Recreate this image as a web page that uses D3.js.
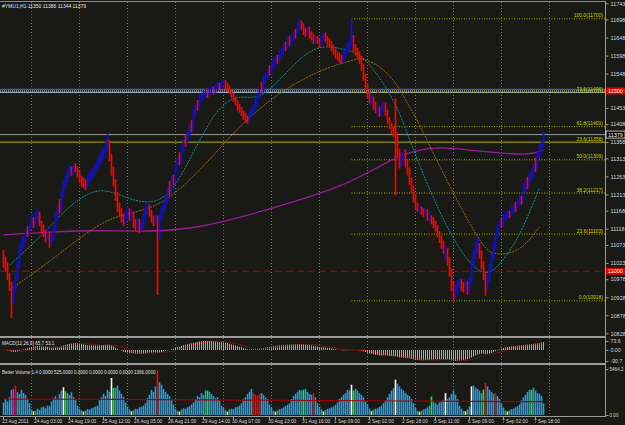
<!DOCTYPE html>
<html>
<head>
<meta charset="utf-8">
<script src="https://cdn.jsdelivr.net/npm/d3@7"></script>
<style>
    body { margin: 0; background: #191915; }
    svg { display: block; }
    text { font-family: "Liberation Sans", Arial, sans-serif; }
</style>
</head>
<body>
<div id="chart"></div>
<script>
//Price data, one value per H1 bar (open = previous close)
var firstOpen = 11045;
var closes = [
    11030,11015,10990,10960,10925,10955,10985,11020,11060,11075,
    11090,11105,11100,11125,11140,11130,11150,11160,11135,11120,
    11110,11095,11105,11080,11090,11120,11150,11170,11165,11215,
    11240,11255,11270,11280,11275,11290,11285,11270,11260,11250,
    11245,11240,11255,11265,11270,11280,11290,11300,11310,11320,
    11335,11345,11360,11320,11280,11250,11210,11180,11165,11150,
    11140,11155,11170,11150,11160,11135,11125,11140,11120,11130,
    11150,11170,11180,11160,11145,11140,11150,11110,11150,11170,
    11180,11200,11220,11215,11255,11250,11290,11305,11300,11340,
    11355,11350,11380,11400,11395,11440,11455,11450,11480,11485,
    11490,11495,11490,11500,11505,11500,11510,11515,11510,11520,
    11525,11515,11510,11500,11490,11480,11470,11455,11450,11440,
    11430,11425,11420,11435,11445,11455,11470,11485,11500,11495,
    11530,11540,11550,11545,11570,11580,11585,11580,11600,11610,
    11620,11615,11640,11635,11645,11655,11650,11675,11690,11680,
    11665,11660,11670,11655,11650,11640,11645,11640,11630,11645,
    11655,11645,11635,11630,11620,11610,11600,11595,11590,11585,
    11600,11610,11625,11630,11645,11620,11610,11600,11590,11565,
    11540,11515,11490,11480,11485,11460,11450,11455,11440,11450,
    11460,11440,11420,11405,11390,11385,11375,11330,11300,11310,
    11330,11300,11280,11250,11230,11200,11180,11175,11180,11165,
    11160,11165,11150,11155,11140,11130,11120,11105,11090,11075,
    11060,11065,11030,11000,10960,10940,10950,10965,10970,10960,
    10955,10965,10950,10975,11020,11045,11060,11070,11050,11020,
    10990,10960,10980,11010,11040,11070,11100,11120,11130,11125,
    11150,11155,11160,11155,11170,11175,11172,11190,11200,11195,
    11230,11240,11235,11260,11270,11285,11280,11320,11340,11350,
    11379
];
var highs = [
    11060,11040,11025,10995,10970,10965,10995,11030,11070,11090,
    11100,11115,11125,11135,11160,11150,11165,11175,11165,11140,
    11130,11115,11120,11110,11100,11130,11160,11180,11200,11225,
    11250,11265,11285,11295,11290,11300,11300,11290,11280,11265,
    11260,11255,11265,11275,11285,11290,11300,11310,11325,11335,
    11345,11360,11380,11365,11325,11290,11255,11220,11190,11175,
    11160,11165,11180,11175,11170,11165,11145,11150,11145,11140,
    11160,11180,11195,11185,11170,11155,11160,11155,11160,11180,
    11195,11210,11230,11250,11265,11268,11300,11315,11330,11350,
    11365,11380,11390,11410,11420,11450,11465,11475,11490,11495,
    11500,11505,11505,11510,11515,11512,11518,11525,11522,11528,
    11535,11530,11522,11515,11505,11495,11485,11475,11465,11455,
    11445,11440,11432,11445,11455,11465,11480,11495,11510,11525,
    11540,11552,11562,11572,11580,11590,11596,11600,11612,11620,
    11632,11636,11650,11652,11656,11666,11672,11686,11698,11695,
    11688,11675,11680,11678,11665,11658,11655,11652,11648,11655,
    11665,11662,11652,11645,11638,11628,11618,11610,11605,11600,
    11610,11620,11635,11645,11700,11655,11630,11620,11610,11598,
    11575,11548,11522,11500,11492,11480,11470,11460,11455,11462,
    11472,11468,11448,11428,11412,11400,11480,11385,11340,11322,
    11340,11338,11310,11288,11260,11238,11212,11190,11185,11180,
    11175,11175,11172,11160,11155,11150,11140,11128,11112,11098,
    11085,11070,11055,11040,11008,10970,10962,10975,10982,10978,
    10970,10978,10972,10985,11030,11060,11085,11092,11078,11058,
    11028,10998,10992,11020,11052,11082,11112,11132,11142,11150,
    11160,11165,11170,11168,11180,11185,11192,11200,11212,11210,
    11245,11255,11262,11272,11285,11298,11315,11335,11355,11362,
    11386
];
var lows = [
    11010,11000,10975,10945,10870,10910,10945,10975,11010,11050,
    11065,11080,11095,11100,11115,11120,11125,11140,11125,11105,
    11095,11080,11085,11065,11070,11085,11110,11140,11160,11180,
    11205,11230,11245,11260,11265,11265,11275,11260,11245,11235,
    11230,11225,11230,11245,11255,11260,11270,11280,11290,11300,
    11310,11325,11335,11305,11265,11235,11195,11165,11150,11135,
    11125,11130,11145,11140,11140,11120,11110,11115,11105,11110,
    11120,11140,11160,11150,11135,11125,11130,10934,11090,11140,
    11160,11170,11190,11210,11230,11240,11245,11280,11295,11310,
    11330,11345,11355,11370,11385,11390,11430,11445,11455,11470,
    11475,11480,11480,11485,11490,11490,11495,11500,11500,11505,
    11512,11505,11500,11490,11480,11470,11460,11445,11440,11430,
    11420,11412,11408,11412,11428,11438,11448,11462,11478,11492,
    11508,11522,11532,11542,11552,11562,11572,11575,11582,11592,
    11602,11610,11615,11625,11628,11638,11645,11652,11668,11670,
    11655,11650,11652,11645,11640,11630,11632,11630,11620,11625,
    11638,11635,11625,11620,11610,11600,11590,11585,11578,11575,
    11578,11592,11602,11615,11622,11610,11598,11588,11575,11555,
    11528,11502,11478,11465,11458,11448,11438,11432,11428,11432,
    11442,11430,11410,11395,11380,11372,11210,11318,11285,11290,
    11298,11288,11265,11238,11215,11190,11170,11165,11160,11155,
    11150,11152,11140,11135,11130,11120,11110,11095,11078,11062,
    11048,11032,11015,10985,10945,10918,10925,10938,10950,10945,
    10940,10945,10935,10942,10965,11010,11035,11050,11035,11005,
    10975,10932,10948,10970,11000,11030,11060,11090,11112,11120,
    11132,11140,11145,11148,11150,11160,11165,11170,11180,11185,
    11190,11220,11228,11238,11250,11260,11275,11290,11312,11330,
    11344
];
var volumes = [
    1500,1900,1600,2100,3000,3100,3500,2700,2500,3000,
    2600,2400,1900,1400,650,450,500,750,600,900,
    1000,800,1100,1050,1600,2000,2250,1900,2500,2900,
    3300,2800,2600,2400,2700,2100,1750,1100,750,550,
    400,500,700,650,800,900,1000,1100,1750,2100,
    2500,2250,3000,2750,4400,3200,3250,3500,2900,2500,
    2100,1500,1000,650,450,550,750,700,900,1000,
    1100,1400,2000,2400,3000,2750,3400,5300,3900,3600,
    3100,2750,2500,2250,1900,1250,750,500,400,650,
    800,750,900,1050,1250,1500,1900,2250,2100,2600,
    2400,2900,2900,2750,2500,2250,2000,2100,1750,1100,
    900,550,400,650,750,700,900,1000,1100,1400,
    1900,2100,2500,2750,3100,2600,2400,2300,2500,2600,
    2400,2100,1900,1250,900,500,400,550,700,750,
    900,1050,1200,1400,1900,2250,2500,2750,3000,2900,
    3000,3100,2750,2500,2400,2600,2100,1400,1000,650,
    420,600,750,800,900,1000,1200,1500,1900,2100,
    2400,2600,3000,2900,3600,2900,3100,2900,2600,2400,
    2100,1600,1250,750,450,650,750,800,950,1100,
    1400,1750,2100,2500,2900,3200,4200,3700,3400,3100,
    2900,2600,2400,2250,1900,1400,900,500,400,500,
    650,750,900,1100,2200,1600,1400,1250,1500,1600,
    1750,2600,1900,2100,2500,2900,2400,1900,1100,750,
    500,450,650,1000,3400,3500,3250,3100,2900,2600,
    3000,3800,3400,3000,2750,2500,2600,2250,1900,1400,
    900,550,420,550,700,750,900,1050,1250,1750,
    2100,2400,2750,3000,3000,3250,2900,2600,2500,2250,
    1366
];
//Better Volume colour codes (everything else is the normal blue)
var volKinds = {5: "m", 6: "r", 15: "y", 30: "w", 31: "g", 40: "y", 54: "w", 55: "g", 64: "y",
    77: "r", 88: "y", 102: "g", 112: "y", 125: "r", 126: "r", 127: "r", 128: "r", 136: "y",
    150: "g", 155: "r", 160: "y", 174: "w", 175: "g", 184: "y", 196: "w", 208: "y", 214: "g",
    221: "w", 231: "y", 234: "w", 240: "g", 241: "r", 246: "r", 252: "y", 264: "g"};
var volAvg = [[0, 1900], [40, 1870], [80, 1830], [120, 1780], [160, 1720], [200, 1660], [240, 1600], [270, 1580]];

//Moving averages [bar, price]
var slowMa = [[0, 11101], [23, 11109], [48, 11114], [73, 11109], [98, 11120], [123, 11156], [148, 11197],
    [168, 11234], [183, 11275], [198, 11322], [208, 11336], [218, 11345], [233, 11336], [248, 11328],
    [263, 11322], [270, 11336]];
var fastMa = [[3, 11017], [18, 11092], [33, 11184], [48, 11239], [63, 11197], [78, 11184], [88, 11253],
    [98, 11364], [108, 11461], [118, 11489], [128, 11475], [138, 11530], [148, 11591], [158, 11627],
    [168, 11619], [178, 11605], [184, 11566], [189, 11530], [194, 11483], [199, 11428], [203, 11364],
    [213, 11225], [224, 11095], [234, 11012], [243, 10984], [251, 11040], [258, 11095], [268, 11231]];
var midMa = [[3, 10948], [23, 11026], [48, 11137], [63, 11162], [78, 11178], [98, 11275], [118, 11406],
    [138, 11497], [158, 11558], [173, 11583], [177, 11589], [181, 11589], [189, 11566], [196, 11525],
    [201, 11475], [206, 11428], [211, 11372], [224, 11225], [234, 11123], [241, 11059], [246, 11045],
    [258, 11051], [268, 11123]];
var zigzag = [[174, 11700], [225, 10918]];

//Fibonacci retracement and line objects
var fibLevels = ["0.0", "23.6", "38.2", "50.0", "61.8", "73.6", "100.0"];
var fibPrices = [10918, 11103, 11217, 11309, 11401, 11496, 11700];
var fibStart = 174;
var levelLine = 11358, levelLabel = "23.6(11358)";
var bidPrice = 11379;
var redLines = [11500, 11000];

//Axis labels
var priceTicks = [11743, 11698, 11648, 11598, 11548, 11453, 11408, 11358, 11313, 11263, 11213,
    11168, 11118, 11073, 11023, 10978, 10928, 10878, 10828];
var macdTicks = [73.6, 0, -90.7], macdTickText = ["73.6", "0.00", "-90.7"];
var volTicks = [5464.2, 0], volTickText = ["5464.2", "0.00"];
var timeBars = [0, 16, 33, 50, 66, 83, 100, 115, 133, 150, 166, 183, 200, 216, 233, 250, 266];
var timeLabels = ["23 Aug 2011", "24 Aug 03:00", "24 Aug 19:00", "25 Aug 12:00", "26 Aug 05:00",
    "26 Aug 21:00", "29 Aug 14:00", "30 Aug 07:00", "30 Aug 23:00", "31 Aug 16:00", "1 Sep 09:00",
    "2 Sep 02:00", "2 Sep 18:00", "5 Sep 11:00", "6 Sep 09:00", "7 Sep 02:00", "7 Sep 18:00"];
var gridBars = [14, 38, 62, 86, 110, 134, 158, 182, 206, 225, 249, 273];

var width = 625, height = 425, axisX = 605;

var svg = d3.select("#chart").append("svg")
    .attr("width", width)
    .attr("height", height)
    .style("background", "#191915");

var x = d3.scaleLinear().domain([0, 270]).range([3.5, 543.5]);
var y = d3.scaleLinear().domain([11743, 10828]).range([3.3, 333.3]);
var yMacd = d3.scaleLinear().domain([-90.7, 73.6]).range([361, 341]);
var yVol = d3.scaleLinear().domain([0, 5464.2]).range([415, 369]);

var defs = svg.append("defs");
[["clipMain", 0, 336], ["clipMacd", 338, 25], ["clipVol", 365, 51]].forEach(function (c) {
    defs.append("clipPath").attr("id", c[0]).append("rect")
        .attr("x", 0).attr("y", c[1]).attr("width", axisX).attr("height", c[2]);
});

//grid
var grid = svg.append("g");
[[2, 336], [338, 363], [365, 416]].forEach(function (band) {
    grid.selectAll(null)
        .data(gridBars)
        .enter()
        .append("line")
        .attr("x1", function (d) { return x(d); })
        .attr("x2", function (d) { return x(d); })
        .attr("y1", band[0])
        .attr("y2", band[1])
        .attr("stroke", "#707070")
        .attr("stroke-width", 1)
        .attr("stroke-dasharray", "1,2");
});

var main = svg.append("g").attr("clip-path", "url(#clipMain)");

//horizontal objects
main.append("line")
    .attr("x1", 0).attr("x2", axisX)
    .attr("y1", y(11500) - 1.5).attr("y2", y(11500) - 1.5)
    .attr("stroke", "#3c64b4").attr("stroke-width", 1.2);
main.append("line")
    .attr("x1", 0).attr("x2", axisX)
    .attr("y1", y(11500) - 1.5).attr("y2", y(11500) - 1.5)
    .attr("stroke", "#d02020").attr("stroke-width", 1).attr("stroke-dasharray", "2,4");
main.append("line")
    .attr("x1", 0).attr("x2", axisX)
    .attr("y1", y(11500)).attr("y2", y(11500))
    .attr("stroke", "#d0d0d0").attr("stroke-width", 1).attr("stroke-dasharray", "1,1");
main.append("line")
    .attr("x1", 0).attr("x2", axisX)
    .attr("y1", y(11500) + 1.5).attr("y2", y(11500) + 1.5)
    .attr("stroke", "#8fb4c8").attr("stroke-width", 1.2);

main.append("line")
    .attr("x1", 0).attr("x2", axisX)
    .attr("y1", y(redLines[1])).attr("y2", y(redLines[1]))
    .attr("stroke", "#b40000").attr("stroke-width", 1).attr("stroke-dasharray", "7,4");

main.append("line")
    .attr("x1", 0).attr("x2", axisX)
    .attr("y1", y(bidPrice)).attr("y2", y(bidPrice))
    .attr("stroke", "#9a9a9a").attr("stroke-width", 1);

main.append("line")
    .attr("x1", 0).attr("x2", axisX)
    .attr("y1", y(levelLine)).attr("y2", y(levelLine))
    .attr("stroke", "#b4b400").attr("stroke-width", 1);

main.selectAll("line.fib")
    .data(fibPrices)
    .enter()
    .append("line")
    .attr("class", "fib")
    .attr("x1", x(fibStart)).attr("x2", axisX)
    .attr("y1", function (d) { return y(d); })
    .attr("y2", function (d) { return y(d); })
    .attr("stroke", "#a6a600")
    .attr("stroke-width", 1)
    .attr("stroke-dasharray", "1,1.5");

//moving averages
var maLine = d3.line()
    .x(function (d) { return x(d[0]); })
    .y(function (d) { return y(d[1]); })
    .curve(d3.curveBasis);

main.append("path").datum(slowMa)
    .attr("d", maLine).attr("fill", "none")
    .attr("stroke", "#9a1c9a").attr("stroke-width", 1.3);
main.append("path").datum(midMa)
    .attr("d", maLine).attr("fill", "none")
    .attr("stroke", "#9a6a14").attr("stroke-width", 1).attr("stroke-dasharray", "2,1");
main.append("path").datum(fastMa)
    .attr("d", maLine).attr("fill", "none")
    .attr("stroke", "#168e92").attr("stroke-width", 1).attr("stroke-dasharray", "2,1");

//candles (bar drawn from low to high, coloured by direction)
var bars = closes.map(function (c, i) {
    var o = i === 0 ? firstOpen : closes[i - 1];
    return {i: i, o: o, c: c, h: Math.max(highs[i], o, c), l: Math.min(lows[i], o, c)};
});

main.selectAll("rect.bar")
    .data(bars)
    .enter()
    .append("rect")
    .attr("class", "bar")
    .attr("x", function (d) { return x(d.i) - 0.85; })
    .attr("width", 1.7)
    .attr("y", function (d) { return y(d.h); })
    .attr("height", function (d) { return Math.max(1, y(d.l) - y(d.h)); })
    .attr("fill", function (d) { return d.c >= d.o ? "#0a0aff" : "#ff0000"; });

//zigzag
main.append("path").datum(zigzag)
    .attr("d", d3.line().x(function (d) { return x(d[0]); }).y(function (d) { return y(d[1]); }))
    .attr("fill", "none")
    .attr("stroke", "#8b0000").attr("stroke-width", 1).attr("stroke-dasharray", "1,2");

//fib labels
main.selectAll("text.fib")
    .data(fibPrices)
    .enter()
    .append("text")
    .attr("class", "fib")
    .attr("x", axisX - 2)
    .attr("y", function (d) { return y(d) - 1.5; })
    .attr("text-anchor", "end")
    .attr("font-size", 5)
    .attr("fill", "#d2d200")
    .text(function (d, i) { return fibLevels[i] + "(" + d + ")"; });
main.append("text")
    .attr("x", axisX - 2).attr("y", y(levelLine) - 1.5)
    .attr("text-anchor", "end").attr("font-size", 5).attr("fill", "#d2d200")
    .text(levelLabel);

svg.append("text")
    .attr("x", 2).attr("y", 8)
    .attr("font-size", 5).attr("fill", "#e6e6e6")
    .text("#YMU1,H1  11350 11386 11344 11379");

//MACD(12,26,9) from closes
function ema(values, n) {
    var k = 2 / (n + 1), prev = values[0];
    return values.map(function (v, i) {
        prev = i === 0 ? v : v * k + prev * (1 - k);
        return prev;
    });
}
var ema12 = ema(closes, 12), ema26 = ema(closes, 26);
var macd = closes.map(function (c, i) { return ema12[i] - ema26[i]; });
var signal = macd.map(function (m, i) { return d3.mean(macd.slice(Math.max(0, i - 8), i + 1)); });

var macdG = svg.append("g").attr("clip-path", "url(#clipMacd)");
macdG.selectAll("rect")
    .data(macd)
    .enter()
    .append("rect")
    .attr("x", function (d, i) { return x(i) - 0.5; })
    .attr("width", 1)
    .attr("y", function (d) { return Math.min(yMacd(0), yMacd(d)); })
    .attr("height", function (d) { return Math.abs(yMacd(d) - yMacd(0)); })
    .attr("fill", "#a8a8a8");
macdG.append("path").datum(signal)
    .attr("d", d3.line().x(function (d, i) { return x(i); }).y(function (d) { return yMacd(d); }))
    .attr("fill", "none")
    .attr("stroke", "#c81414").attr("stroke-width", 1).attr("stroke-dasharray", "1,1");
svg.append("text")
    .attr("x", 2).attr("y", 345)
    .attr("font-size", 4.6).attr("fill", "#e0e0e0")
    .text("MACD(12,26,9) 65.7 53.1");

//Better Volume
var volColors = {b: "#1e9ee8", r: "#ff0000", w: "#ffffff", g: "#00ff00", m: "#ff00ff", y: "#ffff00"};
var volG = svg.append("g").attr("clip-path", "url(#clipVol)");
volG.selectAll("rect")
    .data(volumes)
    .enter()
    .append("rect")
    .attr("x", function (d, i) { return x(i) - 0.8; })
    .attr("width", 1.6)
    .attr("y", function (d) { return yVol(d); })
    .attr("height", function (d) { return yVol(0) - yVol(d); })
    .attr("fill", function (d, i) { return volColors[volKinds[i] || "b"]; });
volG.append("path").datum(volAvg)
    .attr("d", d3.line().x(function (d) { return x(d[0]); }).y(function (d) { return yVol(d[1]); }).curve(d3.curveBasis))
    .attr("fill", "none")
    .attr("stroke", "#a00000").attr("stroke-width", 1.2);
svg.append("text")
    .attr("x", 2).attr("y", 374)
    .attr("font-size", 4.5).attr("fill", "#e0e0e0")
    .text("Better Volume 1.4 0.0000 525.0000 0.0000 0.0000 0.0000 0.0000 1366.0000");

//frame and separators
svg.append("line").attr("x1", 0).attr("x2", axisX).attr("y1", 1.5).attr("y2", 1.5)
    .attr("stroke", "#8c8c8c");
svg.append("rect").attr("x", 0).attr("y", 336).attr("width", axisX).attr("height", 2).attr("fill", "#9c9c9c");
svg.append("rect").attr("x", 0).attr("y", 363).attr("width", axisX).attr("height", 2).attr("fill", "#9c9c9c");
svg.append("line").attr("x1", 0).attr("x2", axisX + 0.5).attr("y1", 416.5).attr("y2", 416.5)
    .attr("stroke", "#9c9c9c");
svg.append("line").attr("x1", axisX + 0.5).attr("x2", axisX + 0.5).attr("y1", 1).attr("y2", 417)
    .attr("stroke", "#9c9c9c");

//right axes
function styleAxis(g, size) {
    g.select(".domain").remove();
    g.selectAll("line").attr("stroke", "#9c9c9c");
    g.selectAll("text").attr("fill", "#d8d8d8").attr("font-size", size)
        .style("font-family", "'Liberation Sans', Arial, sans-serif");
}
svg.append("g")
    .attr("transform", "translate(" + (axisX + 0.5) + ",0)")
    .call(d3.axisRight(y).tickValues(priceTicks).tickSize(3).tickPadding(2).tickFormat(d3.format("d")))
    .call(styleAxis, 5.5);
svg.append("g")
    .attr("transform", "translate(" + (axisX + 0.5) + ",0)")
    .call(d3.axisRight(yMacd).tickValues(macdTicks).tickSize(3).tickPadding(2)
        .tickFormat(function (d, i) { return macdTickText[i]; }))
    .call(styleAxis, 5.2);
svg.append("g")
    .attr("transform", "translate(" + (axisX + 0.5) + ",0)")
    .call(d3.axisRight(yVol).tickValues(volTicks).tickSize(3).tickPadding(1)
        .tickFormat(function (d, i) { return volTickText[i]; }))
    .call(styleAxis, 4.6);

//price boxes on the axis
redLines.forEach(function (p) {
    svg.append("rect").attr("x", axisX + 1).attr("y", y(p) - 3.5).attr("width", 19).attr("height", 7)
        .attr("fill", "#e00000");
    svg.append("text").attr("x", axisX + 3).attr("y", y(p) + 2)
        .attr("font-size", 5.5).attr("fill", "#ffffff").text(p);
});
svg.append("rect").attr("x", axisX + 1).attr("y", y(bidPrice) - 3.5).attr("width", 19).attr("height", 7)
    .attr("fill", "#000000").attr("stroke", "#ffffff").attr("stroke-width", 0.7);
svg.append("text").attr("x", axisX + 3).attr("y", y(bidPrice) + 2)
    .attr("font-size", 5.5).attr("fill", "#ffffff").text(bidPrice);

//time axis
var timeG = svg.append("g");
timeG.selectAll("line")
    .data(timeBars)
    .enter()
    .append("line")
    .attr("x1", function (d) { return x(d); })
    .attr("x2", function (d) { return x(d); })
    .attr("y1", 417).attr("y2", 419)
    .attr("stroke", "#9c9c9c");
timeG.selectAll("text")
    .data(timeBars)
    .enter()
    .append("text")
    .attr("x", function (d) { return x(d) - 1.5; })
    .attr("y", 423)
    .attr("font-size", 4.8)
    .attr("fill", "#d8d8d8")
    .text(function (d, i) { return timeLabels[i]; });
</script>
</body>
</html>
